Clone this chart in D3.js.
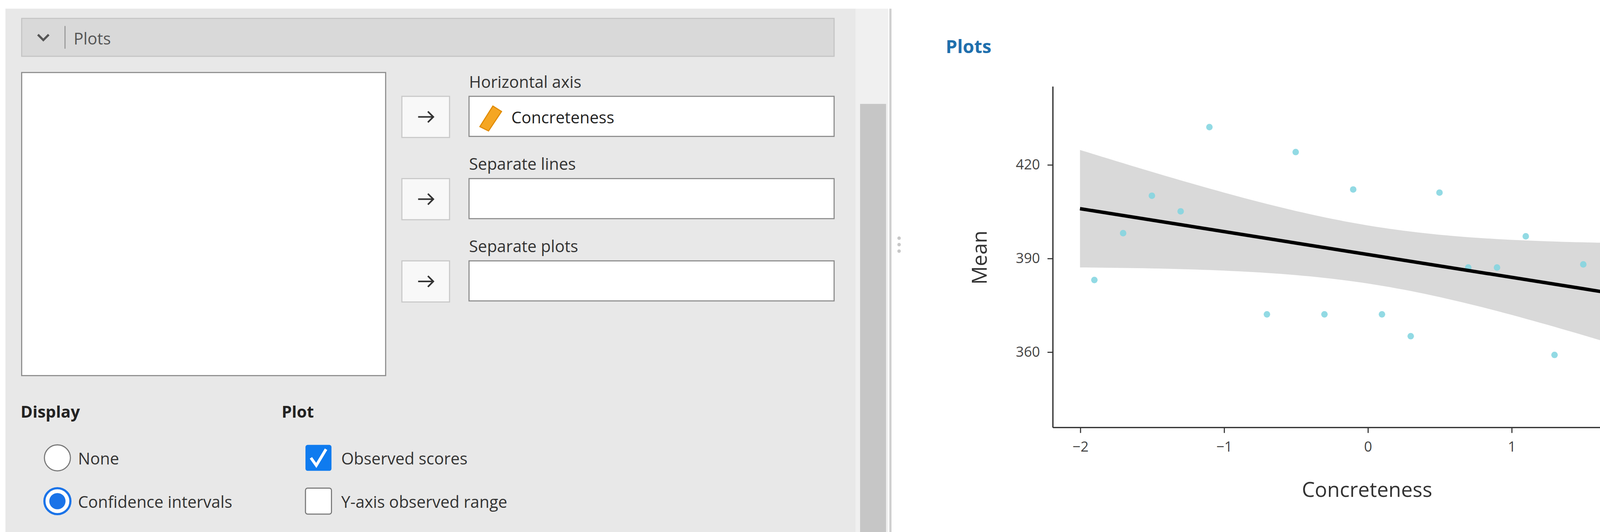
<!DOCTYPE html>
<html><head><meta charset="utf-8">
<script src="https://cdn.jsdelivr.net/npm/d3@7"></script>
<style>body{margin:0;background:#fff}svg{display:block}text{font-family:"Open Sans","Noto Sans",sans-serif}</style>
</head><body>
<script>
const concreteness = [-1.9,-1.7,-1.5,-1.3,-1.1,-0.7,-0.5,-0.3,-0.1,0.1,0.3,0.5,0.7,0.9,1.1,1.3,1.5,1.7,1.9];
const meanRT = [383,398,410,405,432,372,424,372,412,372,365,411,387,387,397,359,388,382,370];
const xTicks = [-2,-1,0,1,2];
const yTicks = [360,390,420];

const W = 1560, H = 491.5;
const svg = d3.select("body").append("svg")
  .attr("width", 4326).attr("height", 1363)
  .attr("viewBox", `0 0 ${W} ${H}`);

// ---- options panel ----
svg.append("rect").attr("x",5).attr("y",8).attr("width",785).attr("height",484).attr("fill","#e8e8e8");
svg.append("rect").attr("x",790).attr("y",8).attr("width",30).attr("height",484).attr("fill","#f0f0f0");
svg.append("rect").attr("x",794).attr("y",96).attr("width",24).attr("height",396).attr("fill","#c6c6c6");
svg.append("line").attr("x1",822).attr("x2",822).attr("y1",8).attr("y2",492).attr("stroke","#cfcfcf").attr("stroke-width",2);
[220,226,232].forEach(y => svg.append("circle").attr("cx",830).attr("cy",y).attr("r",1.6).attr("fill","#c8c8c8"));

svg.append("rect").attr("x",20).attr("y",17).attr("width",750).attr("height",35).attr("fill","#d9d9d9").attr("stroke","#c4c4c4");
svg.append("path").attr("d","M35,32 L40,37 L45,32").attr("fill","none").attr("stroke","#555").attr("stroke-width",2);
svg.append("line").attr("x1",60).attr("x2",60).attr("y1",24).attr("y2",45).attr("stroke","#999");
svg.append("text").attr("x",68).attr("y",41).attr("font-size",15).attr("fill","#555").text("Plots");

svg.append("rect").attr("x",20).attr("y",67).attr("width",336).attr("height",280).attr("fill","#fff").attr("stroke","#8a8a8a");

const slots = [["Horizontal axis",89,"Concreteness"],["Separate lines",165,""],["Separate plots",241,""]];
slots.forEach(([lab,y,val]) => {
  svg.append("text").attr("x",433).attr("y",y-8).attr("font-size",15).attr("fill","#333").text(lab);
  svg.append("rect").attr("x",371).attr("y",y).attr("width",44).attr("height",38).attr("fill","#f8f8f8").attr("stroke","#c8c8c8");
  svg.append("path").attr("d",`M386,${y+19} L400,${y+19} M395,${y+14} L400,${y+19} L395,${y+24}`).attr("fill","none").attr("stroke","#333").attr("stroke-width",1.5);
  svg.append("rect").attr("x",433).attr("y",y).attr("width",337).attr("height",37).attr("fill","#fff").attr("stroke","#8a8a8a");
  if (val) {
    svg.append("path").attr("d",`M443,${y+28} L455,${y+9} L463,${y+14} L451,${y+32} Z`).attr("fill","#f5a623").attr("stroke","#e08a00");
    svg.append("text").attr("x",472).attr("y",y+25).attr("font-size",15).attr("fill","#222").text(val);
  }
});

svg.append("text").attr("x",19).attr("y",386).attr("font-size",15).attr("font-weight","bold").attr("fill","#222").text("Display");
svg.append("text").attr("x",260).attr("y",386).attr("font-size",15).attr("font-weight","bold").attr("fill","#222").text("Plot");
svg.append("circle").attr("cx",53).attr("cy",423).attr("r",12).attr("fill","#fff").attr("stroke","#777");
svg.append("circle").attr("cx",53).attr("cy",463).attr("r",12).attr("fill","#fff").attr("stroke","#1a73e8").attr("stroke-width",2);
svg.append("circle").attr("cx",53).attr("cy",463).attr("r",7.5).attr("fill","#1a73e8");
svg.append("text").attr("x",72).attr("y",429).attr("font-size",15).attr("fill","#333").text("None");
svg.append("text").attr("x",72).attr("y",469).attr("font-size",15).attr("fill","#333").text("Confidence intervals");
svg.append("rect").attr("x",282).attr("y",411).attr("width",24).attr("height",24).attr("rx",2).attr("fill","#0f7bef");
svg.append("path").attr("d","M287,423 L292,430 L301,415").attr("fill","none").attr("stroke","#fff").attr("stroke-width",2.6);
svg.append("rect").attr("x",282).attr("y",451).attr("width",24).attr("height",24).attr("rx",2).attr("fill","#fff").attr("stroke","#777");
svg.append("text").attr("x",315).attr("y",429).attr("font-size",15).attr("fill","#333").text("Observed scores");
svg.append("text").attr("x",315).attr("y",469).attr("font-size",15).attr("fill","#333").text("Y-axis observed range");

// ---- results ----
svg.append("text").attr("x",873).attr("y",49).attr("font-size",17).attr("font-weight","bold").attr("fill","#1f6fad").text("Plots");

const x = d3.scaleLinear().domain([-2,2]).range([997,1528]);
const y = d3.scaleLinear().domain([360,420]).range([325,152]);
const axLeft = 972, axRight = 1548, axTop = 80, axBottom = 395;

// OLS fit + 95% CI
const n = concreteness.length;
const mx = d3.mean(concreteness), my = d3.mean(meanRT);
const sxx = d3.sum(concreteness, v => (v-mx)**2);
const b = d3.sum(concreteness, (v,i) => (v-mx)*(meanRT[i]-my)) / sxx;
const a = my - b*mx;
const s = Math.sqrt(d3.sum(concreteness, (v,i) => (meanRT[i]-a-b*v)**2)/(n-2));
const tcrit = 2.11;
const grid = d3.range(0,81).map(i => -2 + i*0.05);
const band = grid.map(g => {
  const f = a + b*g, se = s*Math.sqrt(1/n + (g-mx)**2/sxx);
  return {g, lo: f - tcrit*se, hi: f + tcrit*se};
});
svg.append("path").datum(band)
  .attr("d", d3.area().x(d => x(d.g)).y0(d => y(d.lo)).y1(d => y(d.hi)))
  .attr("fill","#d9d9d9");

svg.append("g").selectAll("circle").data(concreteness).join("circle")
  .attr("cx", d => x(d)).attr("cy", (d,i) => y(meanRT[i])).attr("r",3)
  .attr("fill","#7fd3df").attr("opacity",0.85);

svg.append("line").attr("x1",x(-2)).attr("x2",x(2)).attr("y1",y(a+b*-2)).attr("y2",y(a+b*2))
  .attr("stroke","#000").attr("stroke-width",3.2);

const xa = svg.append("g").attr("transform",`translate(0,${axBottom})`)
  .call(d3.axisBottom(x).tickValues(xTicks).tickSize(5).tickSizeOuter(0).tickFormat(d3.format("d")));
xa.select(".domain").attr("d",`M${axLeft},0H${axRight}`);
const ya = svg.append("g").attr("transform",`translate(${axLeft},0)`)
  .call(d3.axisLeft(y).tickValues(yTicks).tickSize(5).tickSizeOuter(0));
ya.select(".domain").attr("d",`M0,${axTop}V${axBottom}`);
[xa,ya].forEach(g => {
  g.select(".domain").attr("stroke","#333").attr("stroke-width",1.2);
  g.selectAll(".tick line").attr("stroke","#333");
  g.selectAll(".tick text").attr("font-size",13).attr("fill","#444").attr("font-family","Roboto,sans-serif");
});
xa.selectAll(".tick text").attr("dy","1.1em");
ya.selectAll(".tick text").attr("dx","-0.3em");

svg.append("text").attr("x",1262).attr("y",459).attr("text-anchor","middle").attr("font-size",19)
  .attr("font-family","Roboto,sans-serif").attr("fill","#333").text("Concreteness");
svg.append("text").attr("transform","translate(911,238) rotate(-90)").attr("text-anchor","middle").attr("font-size",19)
  .attr("font-family","Roboto,sans-serif").attr("fill","#333").text("Mean");
</script>
</body></html>
